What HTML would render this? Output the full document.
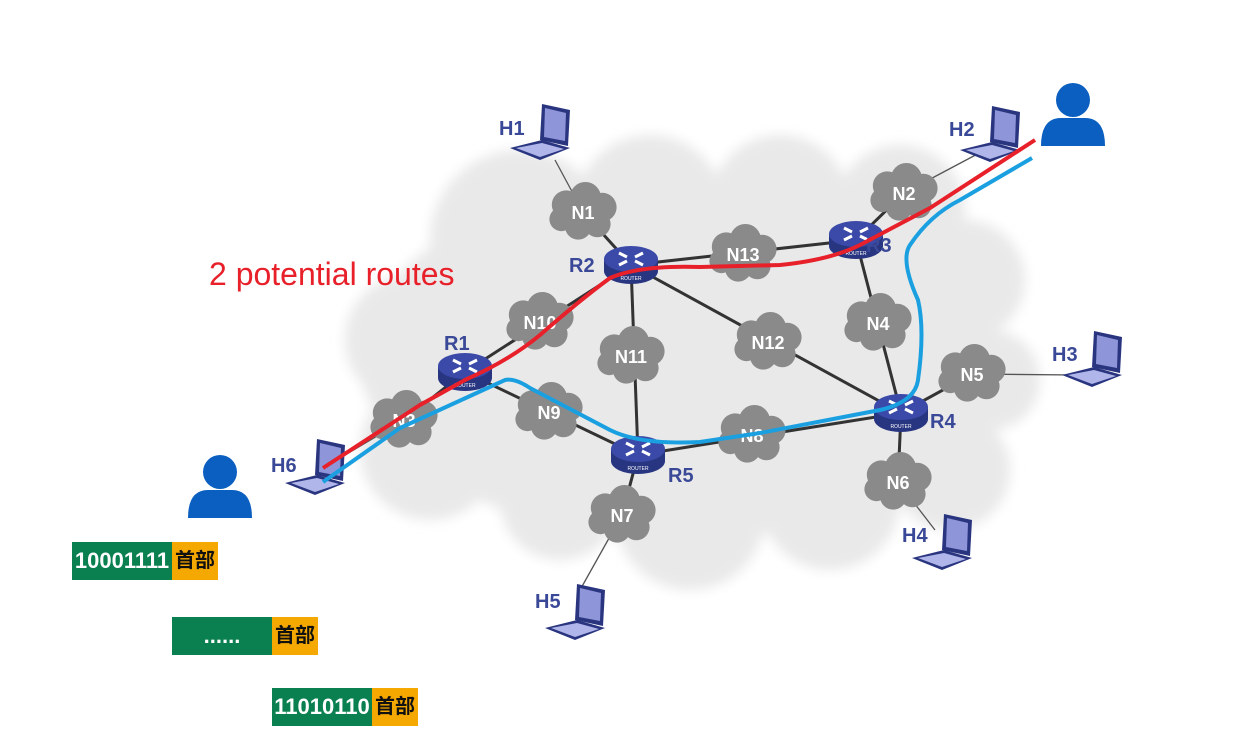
<!DOCTYPE html>
<html><head><meta charset="utf-8"><style>
body{margin:0;background:#fff;width:1248px;height:740px;overflow:hidden;font-family:"Liberation Sans",sans-serif}
svg{position:absolute;left:0;top:0}
.box{position:absolute;height:38px;color:#fff;font:bold 22px "Liberation Sans",sans-serif;line-height:38px;text-align:center}
.g{background:#0a8050}.o{background:#f5a800;color:#111;font-family:"Liberation Sans","Noto Sans CJK SC",sans-serif;font-size:20px;font-weight:bold}
</style></head><body>
<svg width="1248" height="740" viewBox="0 0 1248 740">
<defs>
<g id="cl"><g fill="#8a8a8a" transform="scale(1.2)"><circle cx="-14" cy="-6" r="12"/><circle cx="2" cy="-12" r="13"/><circle cx="16" cy="-4" r="12"/><circle cx="12" cy="10" r="11"/><circle cx="-4" cy="12" r="11"/><circle cx="-18" cy="6" r="10"/><ellipse cx="0" cy="0" rx="22" ry="15"/></g></g>
<g id="rt"><ellipse cx="0" cy="8" rx="27" ry="13" fill="#283580"/><rect x="-27" y="-4" width="54" height="12" fill="#283580"/><ellipse cx="0" cy="-4" rx="27" ry="13" fill="#3b4aa8"/><path d="M-12 -10l8 4M12 -10l-8 4M-12 2l8-4M12 2l-8-4" stroke="#fff" stroke-width="3"/><text x="0" y="17" font-size="5" fill="#fff" text-anchor="middle">ROUTER</text></g>
<g id="lp"><polygon points="2,-34 30,-28 28,8 0,2" fill="#2a3580"/><polygon points="5,-30 26,-25 25,3 4,-1" fill="#8e95d8"/><polygon points="-30,10 2,2 30,10 0,22" fill="#2a3580"/><polygon points="-24,10 2,5 24,11 0,19" fill="#b0b6ea"/></g>
<g id="ps"><circle cx="0" cy="-18" r="17" fill="#0a5fc0"/><path d="M-32 28 Q-32 0 -12 0 L12 0 Q32 0 32 28 Z" fill="#0a5fc0"/></g>
<filter id="bl"><feGaussianBlur stdDeviation="6"/></filter>
</defs>
<g fill="#e9e9e9" filter="url(#bl)">
<circle cx="520" cy="240" r="90"/><circle cx="650" cy="210" r="75"/><circle cx="780" cy="205" r="70"/><circle cx="900" cy="210" r="65"/><circle cx="965" cy="280" r="60"/><circle cx="990" cy="380" r="50"/><circle cx="950" cy="470" r="60"/><circle cx="830" cy="500" r="70"/><circle cx="690" cy="515" r="75"/><circle cx="560" cy="500" r="60"/><circle cx="430" cy="450" r="70"/><circle cx="410" cy="340" r="65"/><ellipse cx="680" cy="360" rx="320" ry="180"/></g>
<g stroke="#333" stroke-width="3" fill="none">
<path d="M631 265L856 240M631 265L901 413M856 240L901 413M901 413L638 455M638 455L631 265M465 372L631 265M465 372L638 455M465 372L404 420M856 240L904 193M901 413L972 374M901 413L898 482M638 455L622 515M631 265L583 212"/>
</g>
<g stroke="#555" stroke-width="1.3"><path d="M583 212L555 160M904 193L985 150M972 374L1075 375M898 482L935 530M622 515L580 590M404 420L320 470"/></g>
<g font-size="18" fill="#fff" text-anchor="middle" font-weight="bold">
<use href="#cl" x="583" y="212"/><text x="583" y="219">N1</text>
<use href="#cl" x="904" y="193"/><text x="904" y="200">N2</text>
<use href="#cl" x="404" y="420"/><text x="404" y="427">N3</text>
<use href="#cl" x="878" y="323"/><text x="878" y="330">N4</text>
<use href="#cl" x="972" y="374"/><text x="972" y="381">N5</text>
<use href="#cl" x="898" y="482"/><text x="898" y="489">N6</text>
<use href="#cl" x="622" y="515"/><text x="622" y="522">N7</text>
<use href="#cl" x="752" y="435"/><text x="752" y="442">N8</text>
<use href="#cl" x="549" y="412"/><text x="549" y="419">N9</text>
<use href="#cl" x="540" y="322"/><text x="540" y="329">N10</text>
<use href="#cl" x="631" y="356"/><text x="631" y="363">N11</text>
<use href="#cl" x="768" y="342"/><text x="768" y="349">N12</text>
<use href="#cl" x="743" y="254"/><text x="743" y="261">N13</text>
</g>
<use href="#rt" x="465" y="370"/><use href="#rt" x="631" y="263"/><use href="#rt" x="856" y="238"/><use href="#rt" x="901" y="411"/><use href="#rt" x="638" y="453"/>
<use href="#lp" x="540" y="138"/><use href="#lp" x="990" y="140"/><use href="#lp" x="1092" y="365"/><use href="#lp" x="942" y="548"/><use href="#lp" x="575" y="618"/><use href="#lp" x="315" y="473"/>
<use href="#ps" x="1073" y="118"/><use href="#ps" x="220" y="490"/>
<g font-size="20" font-weight="bold" fill="#3a4898">
<text x="444" y="350">R1</text><text x="569" y="272">R2</text><text x="866" y="252">R3</text><text x="930" y="428">R4</text><text x="668" y="482">R5</text>
<text x="499" y="135">H1</text><text x="949" y="136">H2</text><text x="1052" y="361">H3</text><text x="902" y="542">H4</text><text x="535" y="608">H5</text><text x="271" y="472">H6</text>
</g>
<text x="209" y="285" font-size="32" fill="#e8202a">2 potential routes</text>
<path d="M323 468 L420 405 L465 380 Q510 360 540 335 Q580 300 610 278 Q640 265 700 267 L780 265 Q830 260 860 245 L930 208 L1035 140" stroke="#e8202a" stroke-width="4" fill="none"/>
<path d="M323 482 L400 428 L505 380 Q515 378 530 388 L610 430 Q640 445 700 442 L760 433 L880 410 Q915 402 918 380 Q925 330 918 300 Q900 260 910 245 Q930 215 960 200 L1032 158" stroke="#1aa0e0" stroke-width="4" fill="none"/>
</svg>
<div class="box g" style="left:72px;top:542px;width:100px">10001111</div><div class="box o" style="left:172px;top:542px;width:46px">首部</div>
<div class="box g" style="left:172px;top:617px;width:100px">......</div><div class="box o" style="left:272px;top:617px;width:46px">首部</div>
<div class="box g" style="left:272px;top:688px;width:100px">11010110</div><div class="box o" style="left:372px;top:688px;width:46px">首部</div>
</body></html>
